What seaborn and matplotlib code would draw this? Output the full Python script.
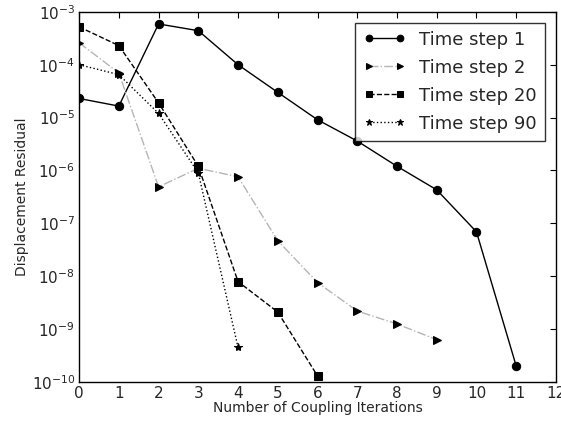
import matplotlib
matplotlib.use("Agg")
import matplotlib.pyplot as plt
import seaborn as sns
import numpy as np
from matplotlib.ticker import NullLocator, LogLocator

# Data
x_ts1 = [0, 1, 2, 3, 4, 5, 6, 7, 8, 9, 10, 11]
y_ts1 = [2.3e-5, 1.65e-5, 5.9e-4, 4.4e-4, 1.0e-4, 3.0e-5, 9.1e-6, 3.6e-6, 1.2e-6, 4.3e-7, 6.9e-8, 2.0e-10]

x_ts2 = [0, 1, 2, 3, 4, 5, 6, 7, 8, 9]
y_ts2 = [2.6e-4, 7.0e-5, 4.9e-7, 1.1e-6, 7.6e-7, 4.7e-8, 7.6e-9, 2.2e-9, 1.25e-9, 6.3e-10]

x_ts20 = [0, 1, 2, 3, 4, 5, 6]
y_ts20 = [5.2e-4, 2.3e-4, 1.9e-5, 1.2e-6, 7.9e-9, 2.1e-9, 1.3e-10]

x_ts90 = [0, 1, 2, 3, 4]
y_ts90 = [1.0e-4, 6.5e-5, 1.2e-5, 9.0e-7, 4.5e-10]

labels = ["Time step 1", "Time step 2", "Time step 20", "Time step 90"]

sns.set_style("white")
plt.rcParams['font.family'] = ['DejaVu Sans']

fig = plt.figure(figsize=(5.61, 4.23), dpi=100)
ax = fig.add_axes([0.141, 0.097, 0.85, 0.875])

ms = 6
sns.lineplot(x=x_ts1, y=y_ts1, ax=ax, color="black", linestyle="-", marker="o",
             markersize=ms, markeredgecolor="black", markerfacecolor="black", label=labels[0], linewidth=1)
sns.lineplot(x=x_ts2, y=y_ts2, ax=ax, color="#b5b5b5", linestyle="-.", marker=">",
             markersize=ms, markeredgecolor="black", markerfacecolor="black", label=labels[1], linewidth=1)
sns.lineplot(x=x_ts20, y=y_ts20, ax=ax, color="black", linestyle="--", marker="s",
             markersize=ms, markeredgecolor="black", markerfacecolor="black", label=labels[2], linewidth=1)
sns.lineplot(x=x_ts90, y=y_ts90, ax=ax, color="black", linestyle=":", marker="*",
             markersize=ms, markeredgecolor="black", markerfacecolor="black", label=labels[3], linewidth=1)

ax.set_yscale("log")
ax.set_xlim(0, 12)
ax.set_ylim(1e-10, 1e-3)
ax.set_xticks(range(0, 13))
ax.yaxis.set_major_locator(LogLocator(base=10, numticks=20))
ax.yaxis.set_minor_locator(NullLocator())
ax.tick_params(direction="in", top=True, right=True, length=4, labelsize=11, color="black", pad=3)
for s in ax.spines.values():
    s.set_color("black")
    s.set_linewidth(1)
ax.set_xlabel("Number of Coupling Iterations", fontsize=10, labelpad=0)
ax.set_ylabel("Displacement Residual", fontsize=10, labelpad=2)

leg = ax.legend(loc="upper right", fontsize=13, frameon=True, fancybox=False,
                edgecolor="black", borderpad=0.45, handlelength=2.3, labelspacing=0.55,
                numpoints=2, borderaxespad=0.6, handletextpad=0.8, markerscale=0.8)
leg.get_frame().set_linewidth(1)

fig.savefig("out.png", dpi=100)
